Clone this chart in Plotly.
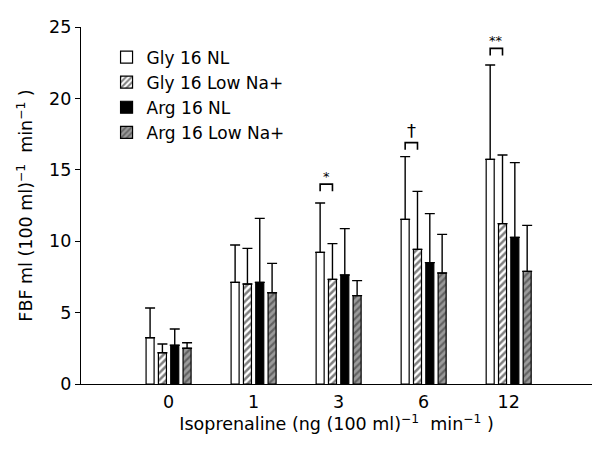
import plotly.graph_objects as go

# ---- data ----
doses = ["0", "1", "3", "6", "12"]
series_names = ["Gly 16 NL", "Gly 16 Low Na+", "Arg 16 NL", "Arg 16 Low Na+"]
gly_nl = [3.24, 7.12, 9.22, 11.53, 15.73]
gly_nl_sd = [2.08, 2.61, 3.46, 4.39, 6.61]
gly_low = [2.19, 7.00, 7.33, 9.43, 11.23]
gly_low_sd = [0.61, 2.50, 2.50, 4.06, 4.81]
arg_nl = [2.71, 7.12, 7.63, 8.50, 10.27]
arg_nl_sd = [1.14, 4.48, 3.25, 3.43, 5.23]
arg_low = [2.50, 6.39, 6.19, 7.77, 7.89]
arg_low_sd = [0.39, 2.06, 1.05, 2.71, 3.22]

sig_groups = [2, 3, 4]          # index of dose group with significance mark
sig_labels = ["*", "\u2020", "**"]
sig_level = [13.5, 16.4, 23.0]  # bracket base level (FBF units)

x = list(range(len(doses)))
values = [gly_nl, gly_low, arg_nl, arg_low]
errors = [gly_nl_sd, gly_low_sd, arg_nl_sd, arg_low_sd]

styles = [
    dict(color="white", pattern=None),
    dict(color="white", pattern=dict(shape="/", bgcolor="white", fgcolor="black", size=5, solidity=0.5)),
    dict(color="black", pattern=None),
    dict(color="#8a8a8a", pattern=dict(shape="/", bgcolor="#9a9a9a", fgcolor="#2a2a2a", size=5, solidity=0.45)),
]

FONT = "DejaVu Sans, Arial, sans-serif"
FS = 17.5

fig = go.Figure()
for name, v, e, st in zip(series_names, values, errors, styles):
    marker = dict(color=st["color"], line=dict(color="black", width=1.2))
    if st["pattern"]:
        marker["pattern"] = st["pattern"]
    fig.add_trace(go.Bar(
        x=x, y=v, name=name, marker=marker,
        error_y=dict(type="data", symmetric=False, array=e,
                     arrayminus=[0] * len(e), color="black",
                     thickness=1.4, width=5),
    ))

# significance brackets between the first two bars of a group
slot = (1 - 0.42) / 4
for g, lab, lvl in zip(sig_groups, sig_labels, sig_level):
    x0 = g - 1.5 * slot
    x1 = g - 0.5 * slot
    top = lvl + 0.5
    fig.add_shape(type="path",
                  path=f"M {x0},{lvl} L {x0},{top} L {x1},{top} L {x1},{lvl}",
                  xref="x", yref="y", line=dict(color="black", width=1.6))
    fig.add_annotation(x=(x0 + x1) / 2, y=top, text=lab, showarrow=False,
                       yanchor="bottom", yshift=-2 if lab != "\u2020" else 0,
                       font=dict(family=FONT, size=13 if lab != "\u2020" else 18, color="black"))

sp = "\u00a0\u00a0"
fig.update_layout(
    width=594, height=450,
    margin=dict(l=81, r=2, t=27, b=66),
    paper_bgcolor="white", plot_bgcolor="white",
    barmode="group", bargap=0.42, bargroupgap=0.35,
    font=dict(family=FONT, size=FS, color="black"),
    showlegend=True,
    legend=dict(x=0.05, y=0.965, xanchor="left", yanchor="top",
                bgcolor="rgba(0,0,0,0)", font=dict(family=FONT, size=17),
                tracegroupgap=0, itemwidth=30),
    xaxis=dict(range=[-1.03, 4.98], tickmode="array", tickvals=x, ticktext=doses,
               showline=True, linecolor="black", linewidth=1.3, ticks="",
               showgrid=False, zeroline=False, ticklabelstandoff=2,
               tickfont=dict(family=FONT, size=FS),
               title=dict(text="Isoprenaline (ng (100 ml)<sup>\u22121</sup>" + sp + "min<sup>\u22121</sup>\u00a0)",
                          standoff=4, font=dict(family=FONT, size=FS))),
    yaxis=dict(range=[0, 25], tickmode="array", tickvals=[0, 5, 10, 15, 20, 25],
               showline=True, linecolor="black", linewidth=1.3, ticks="outside",
               ticklen=5, tickwidth=1.3, tickcolor="black",
               showgrid=False, zeroline=False,
               tickfont=dict(family=FONT, size=FS),
               title=dict(text="FBF ml (100 ml)<sup>\u22121</sup>" + sp + "min<sup>\u22121</sup>\u00a0)",
                          standoff=11, font=dict(family=FONT, size=FS))),
)

fig.write_html("out.html", config={"displayModeBar": False},
               post_script="document.body.style.margin='0';document.body.style.overflow='hidden';")
